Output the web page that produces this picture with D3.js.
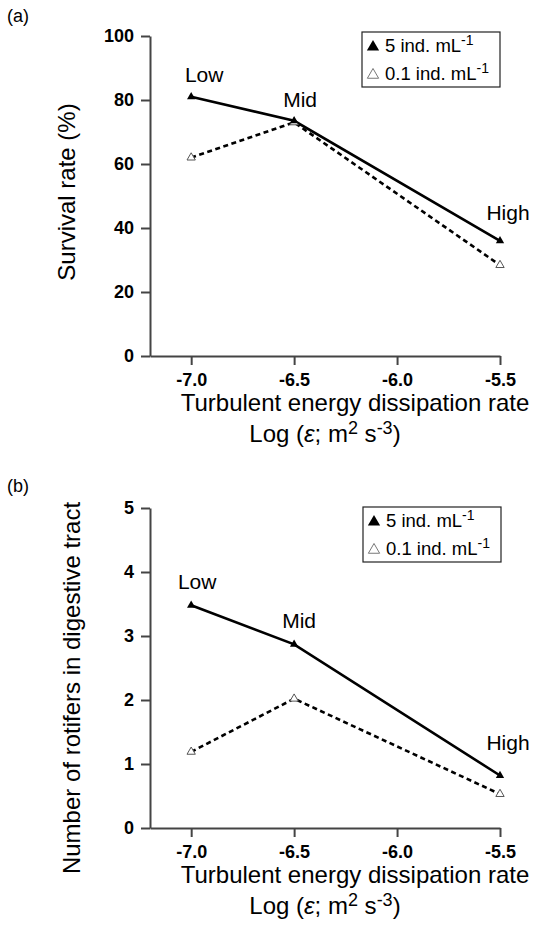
<!DOCTYPE html>
<html lang="en">
  <head>
    <meta charset="utf-8">
    <title>Survival and ingestion vs turbulence</title>
    <script src="https://cdn.jsdelivr.net/npm/d3@7"></script>
    <style>
      body { margin: 0; background: #fff; }
      svg text { font-family: "Liberation Sans", Arial, sans-serif; fill: #000; }
      .domain, .tick line { stroke: #444; stroke-width: 2px; }
    </style>
  </head>
  <body>
    <svg id="chart" width="535" height="927"></svg>
    <script>
      // data
      var xValues = [-7.0, -6.5, -5.5];
      var xTicks = [-7.0, -6.5, -6.0, -5.5];
      var levelLabels = ["Low", "Mid", "High"];
      var seriesNames = ["5 ind. mL", "0.1 ind. mL"];

      var survivalHigh = [81, 73.5, 36];
      var survivalLow = [62, 73, 28.4];
      var survivalTicks = [0, 20, 40, 60, 80, 100];

      var rotifersHigh = [3.48, 2.87, 0.82];
      var rotifersLow = [1.19, 2.02, 0.53];
      var rotiferTicks = [0, 1, 2, 3, 4, 5];

      var svg = d3.select("#chart");

      var x = d3.scaleLinear().domain([-7.2, -5.5]).range([150, 500]);

      var fmtX = function(d) { return d3.format(".1f")(d).replace("−", "-"); };

      function drawPanel(p) {
        var y = d3.scaleLinear().domain(p.yDomain).range(p.yRange);
        var g = svg.append("g");

        g.append("g")
            .attr("transform", "translate(150,0)")
            .call(d3.axisLeft(y).tickValues(p.yTicks).tickFormat(d3.format("d"))
              .tickSize(9).tickPadding(7).tickSizeOuter(0));

        g.append("g")
            .attr("transform", "translate(0," + p.yRange[0] + ")")
            .call(d3.axisBottom(x).tickValues(xTicks).tickFormat(fmtX)
              .tickSize(9).tickPadding(8).tickSizeOuter(0));

        g.selectAll(".tick text")
            .attr("font-size", 18)
            .attr("font-weight", "bold");

        var line = d3.line()
            .x(function(d, i) { return x(xValues[i]); })
            .y(function(d) { return y(d); });

        g.append("path")
            .datum(p.low)
            .attr("fill", "none")
            .attr("stroke", "#000")
            .attr("stroke-width", 2.6)
            .attr("stroke-dasharray", "5,3.5")
            .attr("d", line);

        g.append("path")
            .datum(p.high)
            .attr("fill", "none")
            .attr("stroke", "#000")
            .attr("stroke-width", 2.6)
            .attr("d", line);

        var tri = d3.symbol().type(d3.symbolTriangle).size(30);

        g.selectAll(".mLow")
            .data(p.low)
            .enter().append("path")
            .attr("transform", function(d, i) { return "translate(" + x(xValues[i]) + "," + y(d) + ")"; })
            .attr("d", tri)
            .attr("fill", "#fff")
            .attr("stroke", "#555")
            .attr("stroke-width", 1);

        g.selectAll(".mHigh")
            .data(p.high)
            .enter().append("path")
            .attr("transform", function(d, i) { return "translate(" + x(xValues[i]) + "," + y(d) + ")"; })
            .attr("d", tri)
            .attr("fill", "#000");

        // Low / Mid / High labels
        g.selectAll(".lvl")
            .data(levelLabels)
            .enter().append("text")
            .attr("x", function(d, i) { return x(xValues[i]) + p.labelDx[i]; })
            .attr("y", function(d, i) { return y(p.high[i]) + p.labelDy[i]; })
            .attr("text-anchor", "middle")
            .attr("font-size", 21)
            .text(function(d) { return d; });

        // y title
        g.append("text")
            .attr("transform", "translate(" + p.yTitleX + "," + p.yTitleY + ") rotate(-90)")
            .attr("text-anchor", "middle")
            .attr("font-size", 24)
            .text(p.yTitle);

        // x title
        var xb = p.yRange[0];
        g.append("text")
            .attr("x", 355).attr("y", xb + 55)
            .attr("text-anchor", "middle")
            .attr("font-size", 24)
            .text("Turbulent energy dissipation rate");
        var t2 = g.append("text")
            .attr("x", 325).attr("y", xb + 86)
            .attr("text-anchor", "middle")
            .attr("font-size", 24);
        t2.append("tspan").text("Log (");
        t2.append("tspan").attr("font-style", "italic").text("ε");
        t2.append("tspan").text("; m");
        t2.append("tspan").attr("dy", -8).attr("font-size", 18).text("2");
        t2.append("tspan").attr("dy", 8).text(" s");
        t2.append("tspan").attr("dy", -8).attr("font-size", 18).text("-3");
        t2.append("tspan").attr("dy", 8).text(")");

        // panel tag
        g.append("text")
            .attr("x", 7).attr("y", p.tagY)
            .attr("font-size", 18)
            .text(p.tag);

        // legend
        var lg = g.append("g").attr("transform", "translate(" + p.legendX + "," + p.legendY + ")");
        lg.append("rect")
            .attr("width", 138).attr("height", 55)
            .attr("fill", "#fff").attr("stroke", "#222").attr("stroke-width", 1.2);
        seriesNames.forEach(function(name, i) {
          var ry = 20 + i * 28;
          lg.append("path")
              .attr("transform", "translate(11," + (ry - 5) + ")")
              .attr("d", d3.symbol().type(d3.symbolTriangle).size(i === 0 ? 65 : 55))
              .attr("fill", i === 0 ? "#000" : "#fff")
              .attr("stroke", i === 0 ? "none" : "#555")
              .attr("stroke-width", 0.8);
          var t = lg.append("text")
              .attr("x", 23).attr("y", ry)
              .attr("font-size", 18.5);
          t.append("tspan").text(name);
          t.append("tspan").attr("dy", -7).attr("font-size", 14).text("-1");
        });
      }

      drawPanel({
        yDomain: [0, 100], yRange: [356, 36], yTicks: survivalTicks,
        high: survivalHigh, low: survivalLow,
        labelDx: [13, 6, 8], labelDy: [-15, -14, -21],
        yTitle: "Survival rate (%)", yTitleX: 75, yTitleY: 192,
        tag: "(a)", tagY: 22,
        legendX: 362, legendY: 32
      });

      drawPanel({
        yDomain: [0, 5], yRange: [828, 508], yTicks: rotiferTicks,
        high: rotifersHigh, low: rotifersLow,
        labelDx: [6, 5, 8], labelDy: [-16, -16, -26],
        yTitle: "Number of rotifers in digestive tract", yTitleX: 80, yTitleY: 688,
        tag: "(b)", tagY: 492,
        legendX: 363, legendY: 507
      });
    </script>
  </body>
</html>
